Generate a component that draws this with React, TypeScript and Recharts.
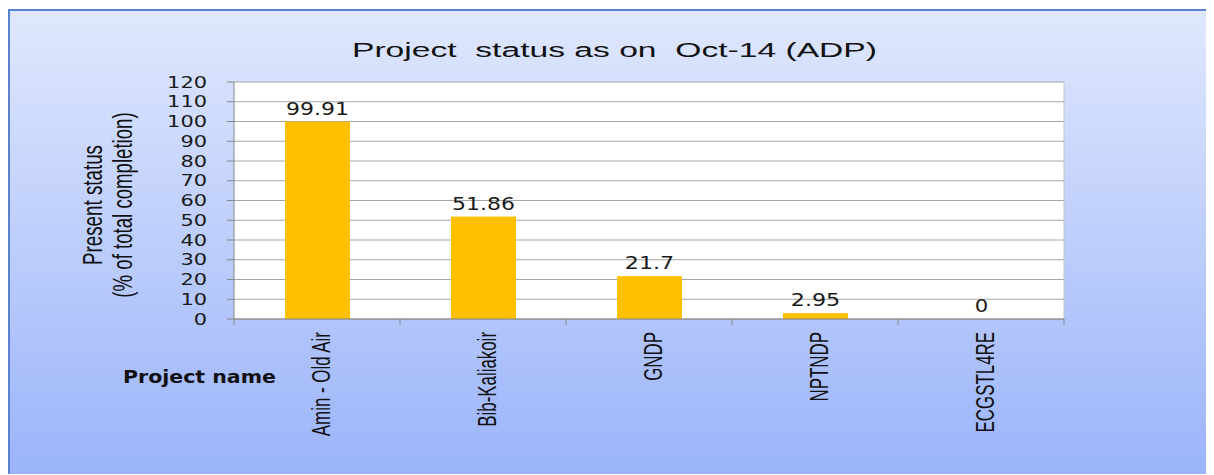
import { BarChart, Bar, XAxis, YAxis, CartesianGrid, Customized } from 'recharts';

// datos del gráfico
const projects = ['Amin - Old Air', 'Bib-Kaliakoir', 'GNDP', 'NPTNDP', 'ECGSTL4RE'];
const completion = [99.91, 51.86, 21.7, 2.95, 0];
const yTicks = [0, 10, 20, 30, 40, 50, 60, 70, 80, 90, 100, 110, 120];

const data = projects.map((name, i) => ({ name, value: completion[i] }));

// layout
const W = 1206;
const H = 466;
const MARGIN = { top: 73, right: 150, left: 0, bottom: 0 };
const Y_AXIS_W = 226;
const X_AXIS_H = 156;
const PLOT_BOTTOM = H - X_AXIS_H;
const PLOT_RIGHT = W - MARGIN.right;
const BAND = (PLOT_RIGHT - Y_AXIS_W) / projects.length;

const AXIS_GREY = '#868686';

const charWidth = (s: string, digit: number, dot: number) =>
  s.split('').reduce((acc, c) => acc + (c === '.' ? dot : digit), 0);

const YTick = (props: any) => {
  const { x, y, payload } = props;
  const s = String(payload.value);
  return (
    <text x={x} y={y + 5.5} textAnchor="end" fontFamily="DejaVu Sans" fontSize={15} fill="#1a1a1a"
      textLength={charWidth(s, 13.3, 7)} lengthAdjust="spacingAndGlyphs">
      {s}
    </text>
  );
};

const XTick = (props: any) => {
  const { x, payload, index } = props;
  const left = x - BAND / 2;
  return (
    <g>
      <line x1={left} x2={left} y1={PLOT_BOTTOM} y2={PLOT_BOTTOM + 6} stroke={AXIS_GREY} />
      {index === projects.length - 1 && (
        <line x1={x + BAND / 2} x2={x + BAND / 2} y1={PLOT_BOTTOM} y2={PLOT_BOTTOM + 6} stroke={AXIS_GREY} />
      )}
      <text transform={`translate(${x + 12.5}, ${PLOT_BOTTOM + 13}) rotate(-90) scale(0.65, 1)`}
        textAnchor="end" fontFamily="Liberation Sans" fontSize={26} fill="#111">
        {payload.value}
      </text>
    </g>
  );
};

// barra con su etiqueta encima (así también sale el 0)
const BarWithValue = (props: any) => {
  const { x, y, width, height, value, fill } = props;
  const v = Array.isArray(value) ? value[1] - value[0] : value;
  const s = String(v);
  return (
    <g>
      {height > 0 && <rect x={x} y={y} width={width} height={height} fill={fill} />}
      <text x={x + width / 2} y={y - 7} textAnchor="middle" fontFamily="DejaVu Sans" fontSize={17} fill="#1a1a1a"
        textLength={charWidth(s, 13.5, 9)} lengthAdjust="spacingAndGlyphs">
        {s}
      </text>
    </g>
  );
};

// textos fijos: título, ejes y borde derecho
const Decor = () => (
  <g>
    <line x1={PLOT_RIGHT} x2={PLOT_RIGHT} y1={MARGIN.top} y2={PLOT_BOTTOM} stroke="#c4c4c4" />
    <text x={606.5} y={48} textAnchor="middle" fontFamily="Liberation Sans" fontSize={20} fill="#111"
      textLength={525} lengthAdjust="spacingAndGlyphs" style={{ whiteSpace: 'pre' }}>
      Project  status as on  Oct-14 (ADP)
    </text>
    <text transform="translate(94, 196) rotate(-90) scale(0.67, 1)" textAnchor="middle"
      fontFamily="Liberation Sans" fontSize={28} fill="#111">
      Present status
    </text>
    <text transform="translate(124, 196) rotate(-90) scale(0.69, 1)" textAnchor="middle"
      fontFamily="Liberation Sans" fontSize={27} fill="#111">
      (% of total completion)
    </text>
    <text x={115} y={374} fontFamily="DejaVu Sans" fontWeight="bold" fontSize={17} fill="#111"
      textLength={153} lengthAdjust="spacingAndGlyphs">
      Project name
    </text>
  </g>
);

const App = () => {
  return (
    <div style={{
      position: 'relative', top: 1, width: W, height: H,
      background: 'linear-gradient(to bottom, #e0e8fd, #9bb4fa)',
      boxShadow: 'inset 2px 2px 0 #5a82cf',
    }}>
      <BarChart width={W} height={H} data={data} margin={MARGIN}>
        <CartesianGrid vertical={false} fill="#ffffff" stroke="#a6a6a6" />
        <XAxis dataKey="name" height={X_AXIS_H} interval={0} tickLine={false}
          axisLine={{ stroke: AXIS_GREY }} tick={<XTick />} />
        <YAxis width={Y_AXIS_W} domain={[0, 120]} ticks={yTicks} interval={0} tickSize={7} tickMargin={20}
          axisLine={{ stroke: AXIS_GREY }} tickLine={{ stroke: AXIS_GREY }} tick={<YTick />} />
        <Bar dataKey="value" fill="#ffc000" barSize={65} isAnimationActive={false} shape={<BarWithValue />} />
        <Customized component={<Decor />} />
      </BarChart>
    </div>
  );
};

export default App;
